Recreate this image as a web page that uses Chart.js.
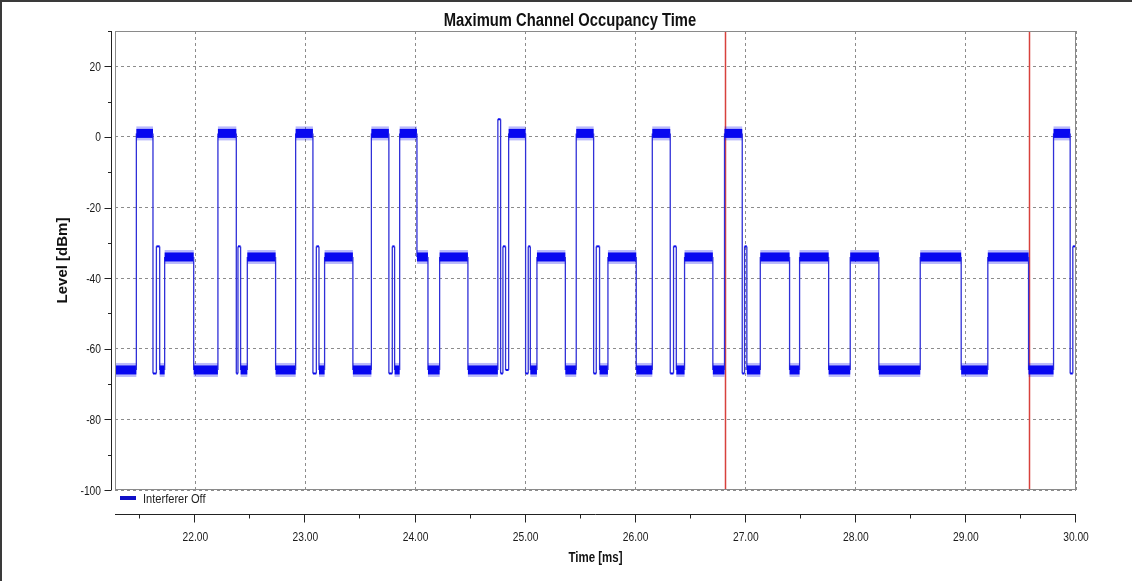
<!DOCTYPE html>
<html>
<head>
<meta charset="utf-8">
<title>Maximum Channel Occupancy Time</title>
<script src="https://cdn.jsdelivr.net/npm/chart.js@4.4.1/dist/chart.umd.min.js"></script>
<style>
  html, body { margin: 0; padding: 0; background: #fff; }
  #wrap { width: 1132px; height: 581px; }
</style>
</head>
<body>
<div id="wrap"><canvas id="chart" width="1132" height="581"></canvas></div>
<script>
// boundaries of the trace segments, in ms
const edgeTimes = [
  21.27, 21.464, 21.615, 21.646, 21.676, 21.721, 21.985, 22.205, 22.372, 22.387,
  22.411, 22.472, 22.729, 22.911, 23.068, 23.099, 23.123, 23.174, 23.431, 23.599,
  23.758, 23.789, 23.810, 23.856, 24.013, 24.113, 24.219, 24.476, 24.748, 24.773,
  24.794, 24.818, 24.846, 25.000, 25.024, 25.043, 25.103, 25.361, 25.460, 25.618,
  25.642, 25.672, 25.748, 26.005, 26.151, 26.314, 26.344, 26.369, 26.444, 26.701,
  26.807, 26.968, 26.989, 27.010, 27.132, 27.398, 27.489, 27.753, 27.949, 28.209,
  28.585, 28.957, 29.199, 29.569, 29.796, 29.947, 29.971, 30.0,
];

// level held between edgeTimes[i] and edgeTimes[i + 1], in dBm
const segmentLevels = [
  -66, 1, -67, -31, -66, -34, -66, 1, -67, -31,
  -66, -34, -66, 1, -67, -31, -66, -34, -66, 1,
  -67, -31, -66, 1, -34, -66, -34, -66, 5, -67,
  -31, -66, 1, -67, -31, -66, -34, -66, 1, -67,
  -31, -66, -34, -66, 1, -67, -31, -66, -34, -66,
  1, -67, -31, -66, -34, -66, -34, -66, -34, -66,
  -34, -66, -34, -66, 1, -67, -31,
];

// red cursor lines, ms
const markerTimes = [26.807, 29.569];

// axis ticks
const xTicks = [22, 23, 24, 25, 26, 27, 28, 29, 30];
const xMinorTicks = [21.5, 22.5, 23.5, 24.5, 25.5, 26.5, 27.5, 28.5, 29.5];
const yTicks = [-100, -80, -60, -40, -20, 0, 20];
const yMinorTicks = [-90, -70, -50, -30, -10, 10, 30];

const SANS = "'Liberation Sans', Arial, sans-serif";
const SQUEEZE = 0.82; // the screenshot's lettering is narrow
const TRACE = '#0808f0';

// every segment becomes two points, so flat parts and edges are separate line pieces
const tracePoints = [];
segmentLevels.forEach((level, i) => {
  tracePoints.push({ x: edgeTimes[i], y: level });
  tracePoints.push({ x: edgeTimes[i + 1], y: level });
});

const isFlat = (ctx) => ctx.p0.parsed.y === ctx.p1.parsed.y;
const isShort = (ctx) => ctx.p1.parsed.x - ctx.p0.parsed.x < 0.035;

const narrowText = (ctx, text, x, y, font, align = 'left') => {
  ctx.save();
  ctx.translate(x, y);
  ctx.scale(SQUEEZE, 1);
  ctx.font = font;
  ctx.textAlign = align;
  ctx.textBaseline = 'alphabetic';
  ctx.fillText(text, 0, 0);
  ctx.restore();
};

const framePlugin = {
  id: 'frame',
  beforeDatasetsDraw(chart) {
    const { ctx, chartArea: area, scales: { x } } = chart;
    ctx.save();
    ctx.strokeStyle = '#d8413c';
    ctx.lineWidth = 1.5;
    markerTimes.forEach((t) => {
      const px = Math.round(x.getPixelForValue(t)) + 0.5;
      ctx.beginPath();
      ctx.moveTo(px, area.top);
      ctx.lineTo(px, area.bottom);
      ctx.stroke();
    });
    ctx.restore();
  },
  afterDraw(chart) {
    const { ctx, chartArea: area, scales: { x, y } } = chart;
    ctx.save();

    // outer frame (only top and left show in the screenshot)
    ctx.fillStyle = '#3a3a3a';
    ctx.fillRect(0, 0, chart.width, 2);
    ctx.fillRect(0, 0, 2, chart.height);

    // plot box
    ctx.strokeStyle = '#8a8a8a';
    ctx.lineWidth = 1;
    ctx.strokeRect(area.left + 0.5, area.top + 0.5, area.right - area.left - 1, area.bottom - area.top - 1);

    // detached y axis
    ctx.strokeStyle = '#222';
    const ax = area.left - 3.5;
    ctx.beginPath();
    ctx.moveTo(ax, area.top);
    ctx.lineTo(ax, area.bottom);
    yTicks.forEach((v) => {
      const py = Math.round(y.getPixelForValue(v)) + 0.5;
      ctx.moveTo(ax - 7, py);
      ctx.lineTo(ax, py);
    });
    yMinorTicks.forEach((v) => {
      const py = Math.round(y.getPixelForValue(v)) + 0.5;
      ctx.moveTo(ax - 3.5, py);
      ctx.lineTo(ax, py);
    });
    ctx.stroke();

    // detached x axis
    const ay = area.bottom + 24.5;
    ctx.beginPath();
    ctx.moveTo(area.left, ay);
    ctx.lineTo(area.right, ay);
    xTicks.forEach((v) => {
      const px = Math.round(x.getPixelForValue(v)) - 0.5;
      ctx.moveTo(px, ay);
      ctx.lineTo(px, ay + 8);
    });
    xMinorTicks.forEach((v) => {
      const px = Math.round(x.getPixelForValue(v)) - 0.5;
      ctx.moveTo(px, ay);
      ctx.lineTo(px, ay + 4);
    });
    ctx.stroke();

    // tick labels
    ctx.fillStyle = '#1a1a1a';
    const tickFont = '12.5px ' + SANS;
    xTicks.forEach((v) => {
      narrowText(ctx, v.toFixed(2), x.getPixelForValue(v), ay + 26, tickFont, 'center');
    });
    yTicks.forEach((v) => {
      narrowText(ctx, String(v), area.left - 14, y.getPixelForValue(v) + 4.5, tickFont, 'right');
    });

    // titles
    ctx.fillStyle = '#111';
    narrowText(ctx, 'Maximum Channel Occupancy Time', 570, 26, 'bold 18px ' + SANS, 'center');
    narrowText(ctx, 'Time [ms]', (area.left + area.right) / 2, 562, 'bold 14px ' + SANS, 'center');
    ctx.save();
    ctx.translate(67, (area.top + area.bottom) / 2);
    ctx.rotate(-Math.PI / 2);
    ctx.font = 'bold 15px ' + SANS;
    ctx.textAlign = 'center';
    ctx.fillText('Level [dBm]', 0, 0);
    ctx.restore();

    // legend between plot and axis
    ctx.fillStyle = '#1010c8';
    ctx.fillRect(area.left + 5, area.bottom + 6, 16, 4);
    ctx.fillStyle = '#222';
    narrowText(ctx, 'Interferer Off', area.left + 28, area.bottom + 12.5, '13.5px ' + SANS);

    ctx.restore();
  },
};

new Chart(document.getElementById('chart'), {
  type: 'line',
  data: {
    datasets: [{
      // soft fringe standing in for the noise spikes on the flat parts
      label: 'fringe',
      data: tracePoints,
      borderWidth: 14,
      pointRadius: 0,
      segment: {
        borderColor: (ctx) => (isFlat(ctx) && !isShort(ctx) ? 'rgba(8, 8, 240, 0.28)' : 'rgba(0, 0, 0, 0)'),
      },
    }, {
      label: 'Interferer Off',
      data: tracePoints,
      borderColor: TRACE,
      borderWidth: 1.3,
      pointRadius: 0,
      tension: 0,
      segment: {
        borderWidth: (ctx) => (isFlat(ctx) ? (isShort(ctx) ? 2 : 9) : 1.3),
        borderColor: (ctx) => (isFlat(ctx) ? TRACE : '#3030d8'),
      },
    }],
  },
  options: {
    responsive: false,
    devicePixelRatio: 1,
    animation: false,
    events: [],
    layout: { padding: { left: 0, right: 56, top: 31, bottom: 0 } },
    plugins: {
      legend: { display: false },
      tooltip: { enabled: false },
      title: { display: false },
    },
    scales: {
      x: {
        type: 'linear',
        min: 21.27,
        max: 30,
        afterFit: (scale) => { scale.height = 91; },
        afterBuildTicks: (scale) => { scale.ticks = xTicks.map((value) => ({ value })); },
        ticks: { display: false },
        grid: { color: '#8c8c8c', lineWidth: 1, drawTicks: false },
        border: { display: false, dash: [3, 3] },
      },
      y: {
        type: 'linear',
        min: -100,
        max: 30,
        afterFit: (scale) => { scale.width = 115; },
        afterBuildTicks: (scale) => { scale.ticks = yTicks.map((value) => ({ value })); },
        ticks: { display: false },
        grid: { color: '#8c8c8c', lineWidth: 1, drawTicks: false },
        border: { display: false, dash: [3, 3] },
      },
    },
  },
  plugins: [framePlugin],
});
</script>
</body>
</html>
